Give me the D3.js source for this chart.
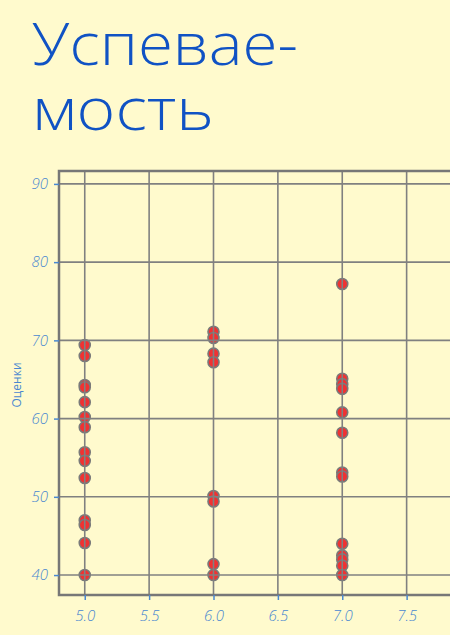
<!DOCTYPE html>
<html>
<head>
<meta charset="utf-8">
<script src="https://cdn.jsdelivr.net/npm/d3@7"></script>
<style>
  body { margin: 0; background: #fffacd; overflow: hidden; }
</style>
</head>
<body>
<div id="chart"></div>
<script>
const titleLines = ["Успевае-", "мость"];
const yLabel = "Оценки";
const xTicks = [5.0, 5.5, 6.0, 6.5, 7.0, 7.5];
const yTicks = [40, 50, 60, 70, 80, 90];

// grade groups (x) and scores (y)
const group5 = [69.4, 68.0, 64.3, 64.0, 62.1, 60.2, 58.9, 55.7, 54.6, 52.4, 47.0, 46.4, 44.1, 40.0];
const group6 = [71.1, 70.3, 68.3, 67.2, 50.1, 49.4, 41.4, 40.0];
const group7 = [77.2, 65.1, 64.4, 63.8, 60.8, 58.2, 53.1, 52.6, 44.0, 42.5, 42.0, 41.2, 40.0];

const data = [];
group5.forEach(v => data.push({ x: 5.0, y: v }));
group6.forEach(v => data.push({ x: 6.0, y: v }));
group7.forEach(v => data.push({ x: 7.0, y: v }));

const W = 450, H = 635;
const margin = { top: 171, right: -21, bottom: 40, left: 59 };
const width = W - margin.left - margin.right,
      height = H - margin.top - margin.bottom;

const blue = "#4a88d0";
const font = "'Open Sans', 'DejaVu Sans', sans-serif";

const root = d3.select("#chart")
    .append("svg")
    .attr("width", W)
    .attr("height", H)
    .style("background", "#fffacd");

root.selectAll("text.title")
    .data(titleLines)
    .join("text")
    .attr("class", "title")
    .attr("x", 32)
    .attr("y", (d, i) => 65 + i * 65)
    .attr("textLength", (d, i) => i === 0 ? 266 : 182)
    .attr("lengthAdjust", "spacingAndGlyphs")
    .style("font-family", font)
    .style("font-weight", 300)
    .style("font-size", "58px")
    .style("fill", "#1052c4")
    .text(d => d);

const svg = root.append("g")
    .attr("transform", `translate(${margin.left},${margin.top})`);

const x = d3.scaleLinear().domain([4.8, 8.0]).range([0, width]);
const y = d3.scaleLinear().domain([37.45, 91.65]).range([height, 0]);

// points first, grid drawn over them
svg.selectAll("circle")
    .data(data)
    .join("circle")
    .attr("cx", d => x(d.x))
    .attr("cy", d => y(d.y))
    .attr("r", 5.5)
    .style("fill", "#f03232")
    .style("stroke", "#7a7a7a")
    .style("stroke-width", 1.6);

svg.selectAll("line.vgrid")
    .data(xTicks)
    .join("line")
    .attr("class", "vgrid")
    .attr("x1", d => x(d)).attr("x2", d => x(d))
    .attr("y1", 0).attr("y2", height)
    .style("stroke", "#808080")
    .style("stroke-width", 1.6);

svg.selectAll("line.hgrid")
    .data(yTicks)
    .join("line")
    .attr("class", "hgrid")
    .attr("x1", 0).attr("x2", width)
    .attr("y1", d => y(d)).attr("y2", d => y(d))
    .style("stroke", "#808080")
    .style("stroke-width", 1.6);

svg.append("rect")
    .attr("width", width)
    .attr("height", height)
    .style("fill", "none")
    .style("stroke", "#777")
    .style("stroke-width", 2.5);

const xAxis = svg.append("g")
    .attr("transform", `translate(0,${height})`)
    .call(d3.axisBottom(x).tickValues(xTicks).tickFormat(d3.format(".1f")).tickSize(5).tickPadding(10));

const yAxis = svg.append("g")
    .call(d3.axisLeft(y).tickValues(yTicks).tickSize(5).tickPadding(6));

[xAxis, yAxis].forEach(a => {
    a.select(".domain").remove();
    a.selectAll(".tick line").style("stroke", blue).style("stroke-width", 1.5);
    a.selectAll(".tick text")
        .style("fill", blue)
        .style("font-family", font)
        .style("font-style", "italic")
        .style("font-weight", 300)
        .style("font-size", "15px");
});

root.append("text")
    .attr("transform", "translate(21,385) rotate(-90)")
    .attr("text-anchor", "middle")
    .style("fill", blue)
    .style("font-family", font)
    .style("font-size", "12px")
    .text(yLabel);
</script>
</body>
</html>
